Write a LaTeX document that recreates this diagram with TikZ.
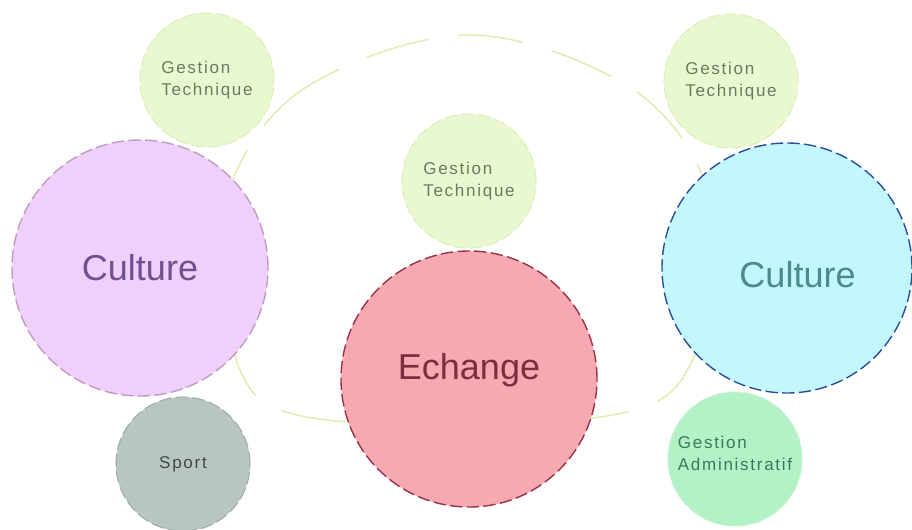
\documentclass[tikz,border=0pt]{standalone}
\usepackage{fontspec}
\setmainfont{Liberation Sans}
\newfontfamily\spacedfont[LetterSpace=10]{Liberation Sans}
\usetikzlibrary{positioning}
\definecolor{ringLine}{HTML}{E4EBB4}
\definecolor{cultLFill}{HTML}{EFCFFB}
\definecolor{cultLDraw}{HTML}{C39BC0}
\definecolor{cultLText}{HTML}{6E5290}
\definecolor{gtFill}{HTML}{EAF8D2}
\definecolor{gtDraw}{HTML}{DCEFB5}
\definecolor{gtText}{HTML}{6B7A60}
\definecolor{sportFill}{HTML}{B8C6BF}
\definecolor{sportDraw}{HTML}{9DACA4}
\definecolor{sportText}{HTML}{3F4A48}
\definecolor{echFill}{HTML}{F7A9B1}
\definecolor{echDraw}{HTML}{9A3347}
\definecolor{echText}{HTML}{7A2E3E}
\definecolor{cultRFill}{HTML}{C1F7FD}
\definecolor{cultRDraw}{HTML}{2B4E9C}
\definecolor{cultRText}{HTML}{4B8A8E}
\definecolor{admFill}{HTML}{B2F2C6}
\definecolor{admDraw}{HTML}{C5F2D0}
\definecolor{admText}{HTML}{3D7A55}

\begin{document}
\begin{tikzpicture}[
  bigdisc/.style={circle,minimum size=5.12cm,inner sep=0pt,line width=0.8pt,
    dash pattern=on 7pt off 2.5pt,align=center,font=\fontsize{20.5}{24}\selectfont},
  smalldisc/.style={circle,minimum size=2.68cm,inner sep=0pt,line width=0.6pt,
    dash pattern=on 7pt off 2.5pt,align=left,font=\spacedfont\fontsize{9.7}{12.5}\selectfont},
  ring/.style={ringLine,line width=0.9pt,dash pattern=on 1.3cm off 0.6cm}
]
  \useasboundingbox (0,0) rectangle (18.24,-10.58);
  % cycle behind the discs
  \draw[ring] plot[smooth cycle,tension=0.6] coordinates {
    (9.38,-0.70) (6.26,-1.66) (4.74,-3.40) (4.56,-5.36) (4.80,-7.40)
    (5.94,-8.30) (9.38,-8.50) (12.70,-8.20) (13.85,-7.20) (14.12,-5.36)
    (14.00,-3.40) (12.46,-1.66)};
  % small discs
  \node[smalldisc,fill=gtFill,draw=gtDraw,text=gtText] (gtL) at (4.14,-1.60) {Gestion\\Technique};
  \node[smalldisc,fill=gtFill,draw=gtDraw,text=gtText] (gtC) at (9.38,-3.62) {Gestion\\Technique};
  \node[smalldisc,fill=gtFill,draw=gtDraw,text=gtText] (gtR) at (14.62,-1.62) {Gestion\\Technique};
  \node[smalldisc,fill=sportFill,draw=sportDraw,text=sportText] (sport) at (3.66,-9.28) {Sport};
  \node[smalldisc,fill=admFill,draw=admDraw,text=admText] (adm) at (14.70,-9.18) {Gestion\\Administratif\\[-6pt]};
  % big discs
  \node[bigdisc,fill=cultLFill,draw=cultLDraw,text=cultLText] (cultL) at (2.80,-5.36) {Culture};
  \node[bigdisc,fill=echFill,draw=echDraw,text=echText] (echange) at (9.38,-7.58) {Echange\\[-10pt]};
  \node[bigdisc,minimum size=5.0cm,fill=cultRFill,draw=cultRDraw,text=cultRText] (cultR) at (15.74,-5.36) {\hspace*{12pt}Culture\\[-31pt]};
\end{tikzpicture}
\end{document}
